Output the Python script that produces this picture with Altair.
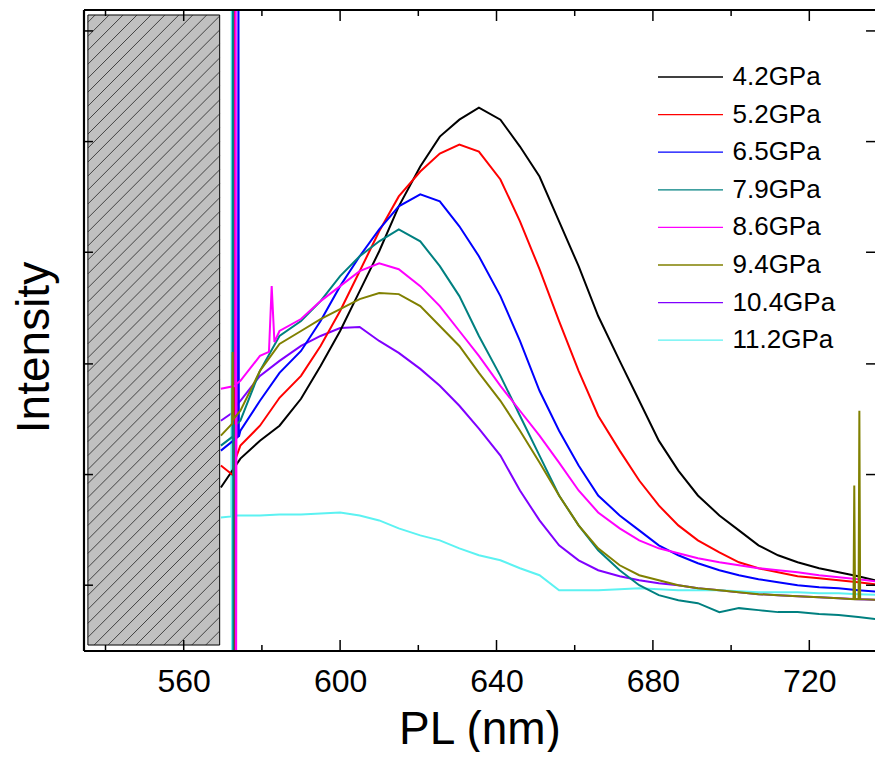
import altair as alt
import pandas as pd

# ---------------- data ----------------
wavelength = [569.5, 574.5, 579.5, 584.5, 590, 595, 600, 605, 610, 615,
              620.5, 625.5, 630.5, 635.5, 641, 646, 651, 656, 661, 666,
              671.5, 676.5, 681.5, 686.5, 691.5, 697, 702, 707, 712, 717,
              722.5, 727.5, 732.5, 739]

series_names = ["4.2GPa", "5.2GPa", "6.5GPa", "7.9GPa",
                "8.6GPa", "9.4GPa", "10.4GPa", "11.2GPa"]
series_colors = ["#000000", "#FF0000", "#0000FF", "#008080",
                 "#FF00FF", "#808000", "#8000FF", "#5CF2F2"]

int_42 = [164, 193, 211, 226, 253, 286, 321, 361, 401, 446, 486, 516, 533, 545, 533, 506, 476, 431, 386, 336,
          291, 251, 211, 181, 156, 136, 121, 106, 96, 89, 83, 79, 75, 69]
int_52 = [186, 206, 226, 254, 276, 306, 341, 381, 421, 456, 481, 499, 508, 501, 473, 431, 383, 331, 281, 236,
          201, 171, 146, 126, 111, 99, 89, 83, 79, 75, 73, 71, 69, 66]
int_65 = [201, 221, 251, 279, 301, 331, 366, 396, 423, 446, 458, 451, 426, 396, 356, 311, 261, 221, 186, 156,
          136, 121, 106, 96, 88, 81, 76, 72, 69, 66, 64, 63, 61, 59]
int_79 = [206, 231, 281, 316, 331, 351, 376, 396, 411, 423, 411, 386, 356, 316, 276, 236, 196, 156, 126, 101,
          81, 66, 56, 51, 48, 39, 43, 41, 39, 39, 37, 36, 34, 31]
int_86 = [263, 271, 296, 321, 333, 351, 366, 381, 389, 383, 366, 346, 321, 296, 266, 241, 216, 189, 161, 139,
          123, 111, 103, 98, 93, 89, 86, 83, 81, 79, 76, 74, 72, 69]
int_94 = [216, 241, 281, 308, 321, 333, 343, 353, 359, 358, 346, 326, 306, 279, 251, 221, 189, 156, 126, 103,
          86, 76, 71, 66, 63, 61, 59, 57, 56, 55, 54, 53, 52, 51]
int_104 = [231, 251, 276, 291, 306, 316, 324, 325, 311, 299, 283, 266, 246, 223, 196, 161, 131, 106, 91, 81,
           75, 71, 68, 66, 63, 61, 59, 57, 56, 55, 54, 53, 52, 51]
int_112 = [134, 136, 136, 137, 137, 138, 139, 136, 131, 123, 116, 111, 103, 96, 91, 83, 76, 61, 61, 61,
           62, 63, 62, 61, 61, 61, 60, 59, 59, 59, 58, 58, 57, 56]

# narrow spikes (laser line near 573 nm, magenta peak, olive spikes)
spike_nm = {
    "4.2GPa": [],
    "5.2GPa": [572.7, 572.8, 572.9, 573.0],
    "6.5GPa": [573.9, 574.0, 574.1],
    "7.9GPa": [572.5, 572.6, 572.7, 572.8],
    "8.6GPa": [573.2, 573.3, 573.4, 573.5, 581.8, 582.5, 583.2],
    "9.4GPa": [572.4, 572.5, 572.6, 731.3, 731.5, 731.7, 732.6, 732.8, 733.0],
    "10.4GPa": [572.8, 572.9, 573.0, 573.1],
    "11.2GPa": [572.2, 572.3, 572.4, 572.5],
}
spike_val = {
    "4.2GPa": [],
    "5.2GPa": [176, 700, -30, 190],
    "6.5GPa": [215, 700, 215],
    "7.9GPa": [215, 700, -30, 225],
    "8.6GPa": [266, 700, -30, 268, 300, 366, 310],
    "9.4GPa": [228, 300, 232, 52, 166, 52, 52, 241, 52],
    "10.4GPa": [240, 700, -30, 245],
    "11.2GPa": [135, 700, -30, 136],
}

series_vals = [int_42, int_52, int_65, int_79, int_86, int_94, int_104, int_112]

rows = []
for name, vals in zip(series_names, series_vals):
    for w, v in zip(wavelength, vals):
        rows.append({"series": name, "nm": w, "val": v})
    for w, v in zip(spike_nm[name], spike_val[name]):
        rows.append({"series": name, "nm": w, "val": v})
df = pd.DataFrame(rows).sort_values(["series", "nm"])

# axis ticks
x_major = [560, 600, 640, 680, 720]
x_minor = [540, 580, 620, 660, 700]
y_ticks = [66, 177, 288, 400, 511, 622]

# hatched (blocked) region
box_x = [535.5, 569.2]
box_y = [6, 638]

# ---------------- layout ----------------
X_MIN, X_MAX = 534.5, 736.8
Y_MIN, Y_MAX = 0, 643
TOTAL_W, TOTAL_H = 869, 744
PLOT_W, PLOT_H = 794, 642          # expected plot area inside the fitted chart
ppn = PLOT_W / (X_MAX - X_MIN)
ppv = PLOT_H / (Y_MAX - Y_MIN)
FONT = "Liberation Sans"

xs = alt.Scale(domain=[X_MIN, X_MAX], nice=False, zero=False)
ys = alt.Scale(domain=[Y_MIN, Y_MAX], nice=False, zero=False)

x_axis = alt.Axis(title="PL (nm)", values=x_major, ticks=False, domain=False, grid=False,
                  labelFontSize=32, labelFont=FONT, labelColor="black", labelPadding=15,
                  titleFontSize=46, titleFont=FONT, titleFontWeight="normal",
                  titleColor="black", titlePadding=10)
y_axis = alt.Axis(title="Intensity", labels=False, ticks=False, domain=False, grid=False,
                  titleFontSize=46, titleFont=FONT, titleFontWeight="normal",
                  titleColor="black", titlePadding=26, titleY=337)

# tick segments (ticks point inwards on all four sides)
tick_rows = []
for v in x_major + x_minor:
    L = (11 if v in x_major else 6) / ppv
    tick_rows.append({"nm": v, "nm2": v, "val": Y_MIN, "val2": Y_MIN + L})
    tick_rows.append({"nm": v, "nm2": v, "val": Y_MAX - L, "val2": Y_MAX})
for t in y_ticks:
    L = 9 / ppn
    tick_rows.append({"nm": X_MIN, "nm2": X_MIN + L, "val": t, "val2": t})
    tick_rows.append({"nm": X_MAX - L, "nm2": X_MAX, "val": t, "val2": t})
ticks_df = pd.DataFrame(tick_rows)

# frame: left, bottom, top (the right side is cut off in the reference)
frame_df = pd.DataFrame([
    {"nm": X_MIN, "nm2": X_MIN, "val": Y_MIN, "val2": Y_MAX},
    {"nm": X_MIN, "nm2": X_MAX, "val": Y_MIN, "val2": Y_MIN},
    {"nm": X_MIN, "nm2": X_MAX, "val": Y_MAX, "val2": Y_MAX},
])

# hatch segments (45 degree in screen space)
bw = (box_x[1] - box_x[0]) * ppn
bh = (box_y[1] - box_y[0]) * ppv
hatch_rows = []
c = -bw
step = 14
while c < bh:
    u0 = max(0.0, -c)
    u1 = min(bw, bh - c)
    if u1 > u0:
        hatch_rows.append({
            "nm": box_x[0] + u0 / ppn, "nm2": box_x[0] + u1 / ppn,
            "val": box_y[0] + (u0 + c) / ppv, "val2": box_y[0] + (u1 + c) / ppv,
        })
    c += step
hatch_df = pd.DataFrame(hatch_rows)
box_df = pd.DataFrame([{"nm": box_x[0], "nm2": box_x[1], "val": box_y[0], "val2": box_y[1]}])


def seg_enc(ch):
    return ch.encode(
        x=alt.X("nm:Q", scale=xs, axis=x_axis), x2="nm2:Q",
        y=alt.Y("val:Q", scale=ys, axis=y_axis), y2="val2:Q")


lines = alt.Chart(df).mark_line(strokeWidth=2.0, clip=True).encode(
    x=alt.X("nm:Q", scale=xs, axis=x_axis),
    y=alt.Y("val:Q", scale=ys, axis=y_axis),
    color=alt.Color("series:N", sort=series_names,
                    scale=alt.Scale(domain=series_names, range=series_colors),
                    legend=alt.Legend(title=None, orient="none", legendX=589.5, legendY=50,
                                      symbolType="M-2,0H2", symbolSize=1056, symbolStrokeWidth=1.3,
                                      labelFontSize=26, labelFont=FONT, labelColor="black",
                                      labelOffset=25, rowPadding=7.6, padding=0)),
    detail="series:N",
)

box = seg_enc(alt.Chart(box_df).mark_rect(fill="#C0C0C0", stroke="black", strokeWidth=1))
hatch = seg_enc(alt.Chart(hatch_df).mark_rule(color="#222222", strokeWidth=0.8))
ticks = seg_enc(alt.Chart(ticks_df).mark_rule(color="black", strokeWidth=1.5))
frame = seg_enc(alt.Chart(frame_df).mark_rule(color="black", strokeWidth=2.2))

chart = alt.layer(box, hatch, lines, ticks, frame).properties(
    width=TOTAL_W, height=TOTAL_H,
    autosize=alt.AutoSizeParams(type="fit", contains="padding"),
    padding={"left": 3, "top": 0, "right": 0, "bottom": 0},
    background="white",
).configure_view(stroke=None)

chart.save("out.html", embed_options={"renderer": "svg", "actions": False})
